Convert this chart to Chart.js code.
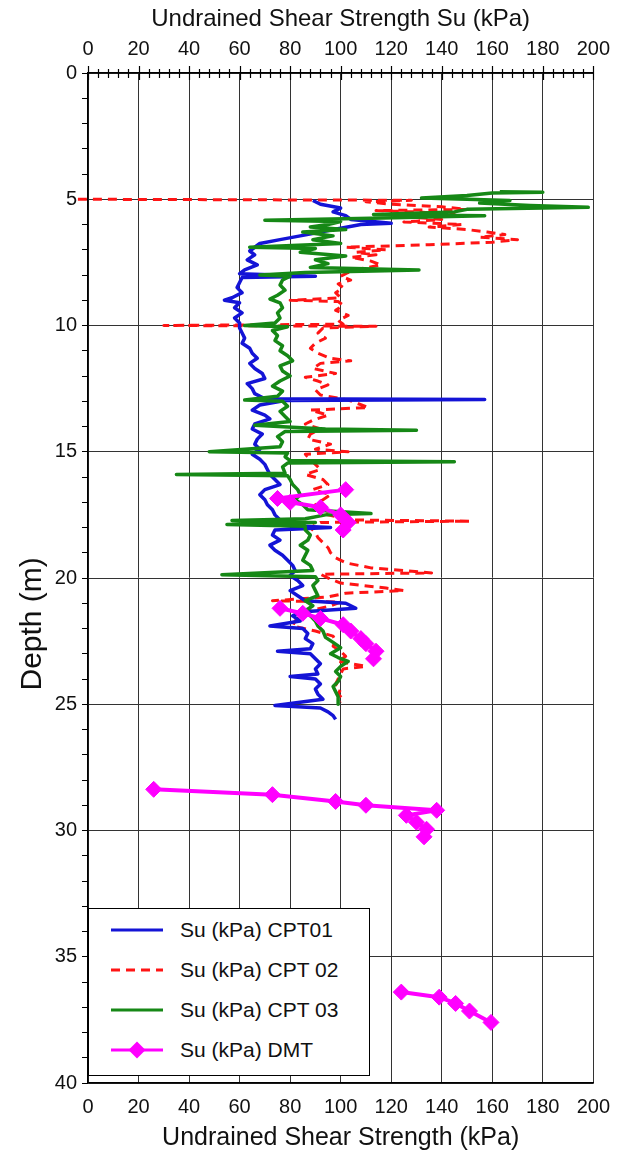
<!DOCTYPE html>
<html>
<head>
<meta charset="utf-8">
<script src="https://cdn.jsdelivr.net/npm/chart.js@4.4.1/dist/chart.umd.min.js"></script>
<style>
html, body { margin: 0; padding: 0; background: #fff; }
#wrap { position: relative; width: 622px; height: 1153px; }
#legend {
    position: absolute; left: 88px; top: 908px; width: 282px; height: 168px;
    box-sizing: border-box; border: 1px solid #000; background: #fff;
    font-family: "Liberation Sans", Arial, sans-serif; font-size: 21px; color: #111;
}
.item { position: absolute; left: 0; height: 30px; display: flex; align-items: center; white-space: nowrap; }
.item svg { margin-left: 22px; margin-right: 17px; }
</style>
</head>
<body>
<div id="wrap">
    <canvas id="chart" width="622" height="1153"></canvas>
    <div id="legend"></div>
</div>
<script>
// ---- data: depth (m) and Su (kPa) ----
const cpt01Depth = [5.05, 5.2, 5.35, 5.5, 5.65, 5.8, 5.95, 6.0, 6.15, 6.3, 6.45, 6.6, 6.75, 6.9, 7.05, 7.2, 7.4, 7.6, 7.8, 7.95,
    8.05, 8.1, 8.3, 8.5, 8.7, 8.9, 9.0, 9.1, 9.3, 9.5, 9.7, 9.9, 10.1, 10.3, 10.5, 10.7, 10.9, 11.1, 11.3, 11.5,
    11.7, 11.9, 12.1, 12.3, 12.5, 12.7, 12.9, 12.93, 12.97, 13.15, 13.35, 13.55, 13.7, 13.9, 14.1, 14.3, 14.5, 14.7, 14.9, 15.1,
    15.3, 15.5, 15.7, 15.9, 16.1, 16.3, 16.5, 16.7, 16.9, 17.1, 17.3, 17.5, 17.7, 17.9, 18.0, 18.1, 18.3, 18.5, 18.7, 18.9,
    19.1, 19.3, 19.5, 19.7, 19.9, 20.1, 20.3, 20.5, 20.7, 20.9, 21.0, 21.2, 21.35, 21.5, 21.7, 21.9, 22.0, 22.2, 22.4, 22.6,
    22.8, 22.9, 23.0, 23.2, 23.4, 23.6, 23.8, 23.9, 24.0, 24.2, 24.4, 24.6, 24.8, 25.05, 25.15, 25.3, 25.45, 25.6];
const cpt01Su = [89, 92, 100, 97, 102, 104, 120, 108, 100, 92, 84, 76, 68, 66, 64, 66, 63, 67, 62, 60,
    90, 61, 60, 59, 61, 57, 54, 60, 58, 61, 58, 60, 60, 61, 62, 61, 64, 65, 67, 64,
    66, 69, 70, 63, 65, 66, 70, 157, 78, 68, 65, 70, 72, 66, 65, 69, 67, 66, 68, 65,
    68, 70, 71, 72, 74, 76, 70, 68, 70, 71, 73, 74, 76, 74, 96, 74, 73, 76, 72, 74,
    77, 79, 81, 82, 80, 83, 85, 80, 83, 86, 102, 106, 84, 81, 84, 72, 85, 87, 86, 89,
    88, 75, 88, 90, 92, 90, 91, 80, 90, 92, 90, 91, 93, 74, 92, 95, 97, 98];

const cpt02Depth = [5.0, 5.02, 5.04, 5.1, 5.2, 5.3, 5.4, 5.45, 5.5, 5.6, 5.7, 5.8, 5.9, 6.0, 6.1, 6.2, 6.3, 6.4, 6.5, 6.6,
    6.7, 6.8, 6.9, 7.0, 7.1, 7.2, 7.3, 7.45, 7.6, 7.75, 7.9, 8.05, 8.2, 8.35, 8.5, 8.7, 8.9, 9.0, 9.05, 9.2,
    9.4, 9.6, 9.8, 9.95, 10.0, 10.03, 10.1, 10.3, 10.5, 10.7, 10.9, 11.1, 11.3, 11.4, 11.5, 11.7, 11.9, 12.05, 12.2, 12.35,
    12.55, 12.75, 12.95, 13.1, 13.25, 13.35, 13.55, 13.75, 13.9, 14.1, 14.3, 14.5, 14.7, 14.9, 15.0, 15.1, 15.3, 15.5, 15.7, 15.9,
    16.1, 16.3, 16.5, 16.7, 16.9, 17.1, 17.3, 17.5, 17.7, 17.75, 17.8, 18.0, 18.2, 18.4, 18.6, 18.8, 19.0, 19.2, 19.4, 19.6,
    19.8, 19.85, 20.0, 20.2, 20.4, 20.5, 20.6, 20.75, 20.9, 20.95, 21.1, 21.3, 21.5, 21.7, 21.9, 22.1, 22.3, 22.5, 22.7, 22.9,
    23.1, 23.3, 23.5, 23.6, 23.8, 24.0, 24.2, 24.4, 24.6, 24.8, 24.9];
const cpt02Su = [-4, 60, 128, 110, 120, 140, 150, 114, 130, 145, 127, 140, 125, 148, 135, 150, 158, 165, 155, 170,
    160, 135, 102, 118, 106, 114, 104, 112, 116, 108, 103, 100, 104, 99, 101, 98, 100, 80, 99, 101,
    98, 103, 99, 101, 30, 114, 93, 91, 94, 90, 88, 91, 96, 104, 92, 89, 98, 86, 91, 95,
    90, 92, 103, 107, 111, 88, 95, 89, 86, 92, 88, 87, 96, 90, 103, 86, 88, 90, 92, 86,
    93, 95, 89, 96, 93, 90, 92, 95, 104, 151, 92, 88, 90, 91, 93, 95, 96, 98, 102, 112,
    136, 92, 95, 100, 118, 125, 102, 95, 73, 100, 96, 88, 84, 82, 81, 90, 97, 98, 97, 100,
    102, 99, 110, 101, 100, 99, 98, 100, 99, 101, 100];

const cpt03Depth = [4.7, 4.72, 4.75, 4.85, 4.95, 5.0, 5.05, 5.15, 5.25, 5.32, 5.4, 5.5, 5.6, 5.65, 5.75, 5.83, 5.88, 6.0, 6.1, 6.2,
    6.3, 6.45, 6.6, 6.75, 6.9, 6.95, 7.1, 7.25, 7.4, 7.55, 7.7, 7.8, 7.9, 8.0, 8.05, 8.2, 8.4, 8.6, 8.8, 8.95,
    9.1, 9.3, 9.5, 9.7, 9.9, 10.0, 10.05, 10.2, 10.4, 10.6, 10.8, 11.0, 11.2, 11.4, 11.6, 11.8, 12.0, 12.2, 12.4, 12.6,
    12.8, 12.95, 13.0, 13.2, 13.4, 13.6, 13.8, 13.95, 14.1, 14.15, 14.2, 14.4, 14.6, 14.8, 15.0, 15.05, 15.2, 15.35, 15.4, 15.45,
    15.6, 15.85, 15.9, 15.95, 16.1, 16.3, 16.5, 16.7, 16.9, 17.1, 17.3, 17.45, 17.5, 17.65, 17.72, 17.8, 17.88, 17.95, 18.1, 18.3,
    18.5, 18.7, 18.9, 19.1, 19.3, 19.5, 19.7, 19.87, 19.95, 20.1, 20.3, 20.5, 20.7, 20.9, 21.1, 21.3, 21.5, 21.7, 21.9, 22.1,
    22.35, 22.55, 22.76, 23.0, 23.15, 23.3, 23.5, 23.7, 23.9, 24.1, 24.3, 24.5, 24.7, 24.87, 25.0];
const cpt03Su = [163, 180, 160, 150, 132, 150, 167, 155, 175, 198, 150, 145, 113, 157, 112, 70, 100, 95, 88, 102,
    85, 97, 89, 100, 64, 90, 84, 102, 90, 95, 88, 131, 86, 68, 80, 77, 76, 78, 75, 72,
    76, 77, 75, 76, 74, 62, 79, 73, 75, 74, 77, 76, 79, 81, 76, 77, 80, 76, 73, 77,
    75, 62, 77, 79, 76, 78, 80, 66, 94, 130, 78, 75, 77, 76, 48, 79, 78, 80, 145, 79,
    77, 78, 35, 79, 80, 81, 83, 84, 82, 85, 87, 112, 94, 86, 57, 90, 55, 86, 86, 88,
    87, 84, 87, 86, 85, 88, 89, 53, 90, 91, 89, 90, 91, 86, 89, 86, 88, 90, 91, 93,
    94, 97, 100, 96, 99, 103, 100, 98, 100, 99, 97, 98, 99, 99, 99];

// DMT soundings: null separates the test groups (no line drawn between them)
const dmtDepth = [16.5, 16.85, 17.0, 17.2, 17.5, 17.8, 18.1, null,
    21.2, 21.4, 21.6, 21.85, 22.1, 22.4, 22.6, 22.9, 23.2, null,
    28.37, 28.58, 28.85, 29.0, 29.2, 29.4, 29.67, 29.95, 30.25, null,
    36.4, 36.6, 36.85, 37.15, 37.6];
const dmtSu = [102, 75, 80, 92, 100, 103, 101, null,
    76, 85, 92, 101, 104, 108, 110, 114, 113, null,
    26, 73, 98, 110, 138, 126, 130, 134, 133, null,
    124, 139, 145.5, 151, 159.5];

function toPoints(depths, values) {
    return depths.map((d, i) => ({ x: values[i], y: d }));
}

const FONT = '"Liberation Sans", Arial, Helvetica, sans-serif';
Chart.defaults.font.family = FONT;
Chart.defaults.color = '#111';

// inward/outward tick marks on the top axis every 4 kPa
const topTicks = {
    id: 'topTicks',
    afterDraw(chart) {
        const { ctx, chartArea } = chart;
        const sc = chart.scales.x2;
        ctx.save();
        ctx.strokeStyle = '#000';
        ctx.lineWidth = 1.2;
        for (let v = sc.min; v <= sc.max; v += 4) {
            const px = Math.round(sc.getPixelForValue(v)) + 0.5;
            const major = v % 20 === 0;
            ctx.beginPath();
            ctx.moveTo(px, chartArea.top - (major ? 7 : 4));
            ctx.lineTo(px, chartArea.top + (major ? 7 : 5));
            ctx.stroke();
        }
        ctx.restore();
    }
};

const datasets = [
    {
        label: 'Su (kPa) DMT',
        data: toPoints(dmtDepth, dmtSu),
        borderColor: '#ff00ff', backgroundColor: '#ff00ff',
        borderWidth: 4, borderJoinStyle: 'round', pointStyle: 'rectRot', pointRadius: 8,
        pointBorderWidth: 1, showLine: true, spanGaps: false, order: 0
    },
    {
        label: 'Su (kPa) CPT 03',
        data: toPoints(cpt03Depth, cpt03Su),
        borderColor: '#168816', borderWidth: 3.5, borderJoinStyle: 'round',
        pointRadius: 0, showLine: true, order: 1
    },
    {
        label: 'Su (kPa) CPT01',
        data: toPoints(cpt01Depth, cpt01Su),
        borderColor: '#1414d6', borderWidth: 3.5, borderJoinStyle: 'round',
        pointRadius: 0, showLine: true, order: 2
    },
    {
        label: 'Su (kPa) CPT 02',
        data: toPoints(cpt02Depth, cpt02Su),
        borderColor: '#ff1414', borderWidth: 3, borderDash: [9, 6], borderJoinStyle: 'round',
        pointRadius: 0, showLine: true, order: 3, clip: 14
    }
];

const chart = new Chart(document.getElementById('chart').getContext('2d'), {
    type: 'scatter',
    data: { datasets: datasets },
    options: {
        responsive: false,
        animation: false,
        devicePixelRatio: 1,
        layout: { padding: { right: 28, left: 0, top: 0, bottom: 0 } },
        plugins: { legend: { display: false }, tooltip: { enabled: false } },
        scales: {
            x: {
                type: 'linear', position: 'bottom', min: 0, max: 200,
                ticks: { stepSize: 20, padding: 12, font: { size: 20 } },
                grid: { color: '#333', lineWidth: 1, drawTicks: false },
                border: { color: '#000', width: 1.5 },
                title: { display: true, text: 'Undrained Shear Strength (kPa)', font: { size: 25 }, padding: { top: 0, bottom: 0 } },
                afterFit: (s) => { s.height = 70; }
            },
            x2: {
                type: 'linear', position: 'top', min: 0, max: 200,
                ticks: { stepSize: 20, padding: 12, font: { size: 20 } },
                grid: { drawOnChartArea: false, drawTicks: false },
                border: { color: '#000', width: 1.5 },
                title: { display: true, text: 'Undrained Shear Strength Su (kPa)', font: { size: 24 }, padding: { top: 5, bottom: 0 } },
                afterFit: (s) => { s.height = 73; }
            },
            y: {
                type: 'linear', position: 'left', reverse: true, min: 0, max: 40,
                ticks: {
                    stepSize: 1, autoSkip: false, padding: 5, font: { size: 20 },
                    callback: (v) => (v % 5 === 0 ? v : '')
                },
                grid: {
                    color: (c) => (c.tick && c.tick.value % 5 === 0 ? '#333' : 'rgba(0,0,0,0)'),
                    tickColor: '#000', tickLength: 6
                },
                border: { color: '#000', width: 1.5 },
                // trailing spaces push the rotated label down the axis, as in the figure
                title: { display: true, text: 'Depth (m)           ', font: { size: 30 }, padding: { top: 15, bottom: 0 } },
                afterFit: (s) => { s.width = 88; }
            }
        }
    },
    plugins: [topTicks]
});

// legend box in the lower left corner, built from the datasets
const legendOrder = ['Su (kPa) CPT01', 'Su (kPa) CPT 02', 'Su (kPa) CPT 03', 'Su (kPa) DMT'];
const legend = document.getElementById('legend');
legendOrder.forEach((name, i) => {
    const ds = chart.data.datasets.find(d => d.label === name);
    const dash = ds.borderDash ? `stroke-dasharray="9 6"` : '';
    const marker = ds.pointRadius ? `<rect x="20" y="9" width="12" height="12" fill="${ds.borderColor}" transform="rotate(45 26 15)"/>` : '';
    const item = document.createElement('div');
    item.className = 'item';
    item.style.top = (6 + i * 40) + 'px';
    item.innerHTML = `<svg width="52" height="30"><line x1="0" y1="15" x2="52" y2="15" stroke="${ds.borderColor}" stroke-width="3" ${dash}/>${marker}</svg><span>${name}</span>`;
    legend.appendChild(item);
});
</script>
</body>
</html>
